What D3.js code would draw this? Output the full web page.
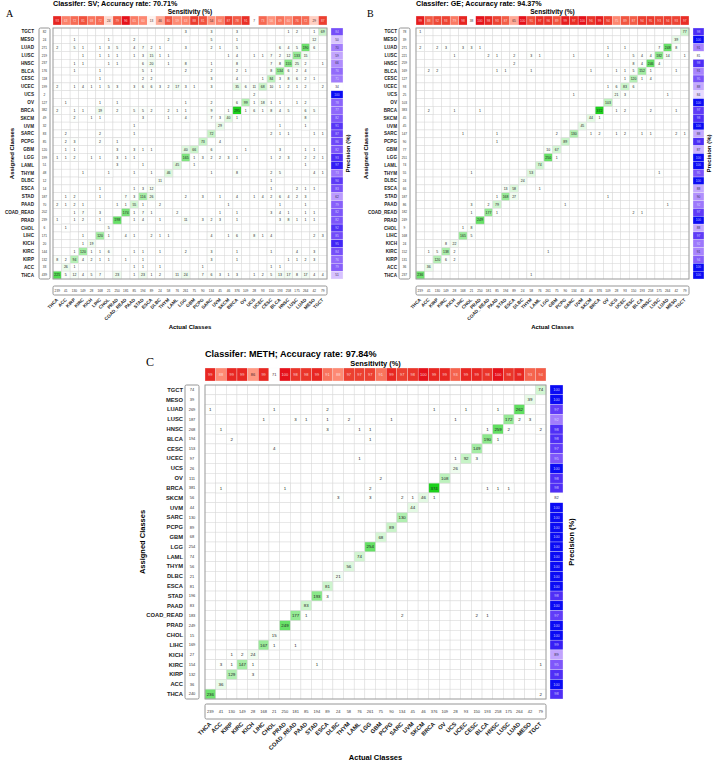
<!DOCTYPE html>
<html>
<head>
<meta charset="utf-8">
<title>Confusion matrices</title>
<script src="https://d3js.org/d3.v7.min.js"></script>
<style>
  body { margin: 0; background: #fff; }
  svg text { font-family: "Liberation Sans", Arial, sans-serif; }
</style>
</head>
<body>
<div id="view"></div>
<script>
// class order along the bottom (actual) and down the side (assigned)
var actualClasses = ["THCA","ACC","KIRP","KIRC","KICH","LIHC","CHOL","PRAD","COAD_READ","PAAD","STAD","ESCA","DLBC","THYM","LAML","LGG","GBM","PCPG","SARC","UVM","SKCM","BRCA","OV","UCS","UCEC","CESC","BLCA","HNSC","LUSC","LUAD","MESO","TGCT"];
var assignedClasses = ["TGCT","MESO","LUAD","LUSC","HNSC","BLCA","CESC","UCEC","UCS","OV","BRCA","SKCM","UVM","SARC","PCPG","GBM","LGG","LAML","THYM","DLBC","ESCA","STAD","PAAD","COAD_READ","PRAD","CHOL","LIHC","KICH","KIRC","KIRP","ACC","THCA"];
var actualTotals = [239,41,130,149,28,168,21,250,181,85,194,89,24,58,76,261,75,90,134,45,46,376,109,28,93,150,193,258,175,264,42,79];

// ---- SV ----
var svCells = {
  TGCT: {LGG:3, SARC:3, BRCA:3, HNSC:1, LUSC:2, MESO:1, TGCT:69},
  MESO: {KIRP:1, CHOL:1, PAAD:2, THYM:2, SARC:5, BRCA:1, MESO:12},
  LUAD: {THCA:2, KIRP:5, KIRC:1, LIHC:1, CHOL:3, PRAD:5, PAAD:4, STAD:7, ESCA:2, DLBC:1, LGG:3, SARC:2, UVM:1, BRCA:5, BLCA:6, HNSC:4, LUSC:5, LUAD:190, MESO:6},
  LUSC: {KIRC:1, LIHC:1, CHOL:1, PRAD:1, PAAD:1, STAD:3, ESCA:15, DLBC:1, THYM:1, SKCM:1, BRCA:4, UCS:1, UCEC:1, CESC:7, BLCA:2, HNSC:12, LUSC:133, LUAD:15},
  HNSC: {KIRP:1, KIRC:1, CHOL:1, PRAD:1, STAD:6, ESCA:20, THYM:1, LGG:8, SARC:1, BRCA:8, CESC:7, BLCA:8, HNSC:155, LUSC:25, LUAD:2, TGCT:1},
  BLCA: {KIRP:1, LIHC:1, STAD:5, ESCA:1, LGG:2, SARC:2, BRCA:2, OV:1, CESC:8, BLCA:134, HNSC:6, LUSC:2, LUAD:4},
  CESC: {LIHC:1, STAD:2, ESCA:2, SARC:3, BRCA:4, UCEC:1, CESC:84, BLCA:3, HNSC:8, LUSC:6, LUAD:2, MESO:1},
  UCEC: {THCA:2, KIRP:1, KIRC:4, KICH:1, LIHC:1, CHOL:5, PRAD:3, PAAD:3, STAD:6, ESCA:6, DLBC:3, THYM:2, LAML:17, LGG:3, GBM:1, SARC:3, BRCA:35, OV:6, UCS:11, UCEC:68, CESC:10, BLCA:1, HNSC:2, LUSC:1, LUAD:2, TGCT:2},
  UCS: {UCS:2},
  OV: {ACC:1, LIHC:1, PRAD:1, LGG:1, SARC:2, BRCA:6, OV:99, UCS:1, UCEC:18, CESC:1, BLCA:1, LUSC:1, LUAD:2},
  BRCA: {THCA:2, KIRP:1, KIRC:1, LIHC:19, PRAD:2, PAAD:5, STAD:5, ESCA:2, THYM:2, LAML:1, LGG:1, SARC:9, SKCM:1, BRCA:295, OV:1, UCS:6, UCEC:1, CESC:8, BLCA:4, HNSC:5, LUAD:6, MESO:5},
  SKCM: {KIRP:2, KICH:1, LIHC:1, STAD:3, THYM:1, LGG:4, SARC:7, UVM:3, SKCM:40, BRCA:1, LUAD:8},
  UVM: {PAAD:1, UVM:29, BLCA:1, LUAD:1},
  SARC: {ACC:2, LIHC:2, PAAD:1, SARC:72, CESC:2, BLCA:1, HNSC:1, MESO:1, TGCT:1},
  PCPG: {ACC:2, KIRP:3, LIHC:2, PRAD:1, PCPG:73, UVM:4},
  GBM: {ACC:1, KIRP:1, PRAD:3, PAAD:3, STAD:1, ESCA:1, LGG:40, GBM:66, SARC:6, OV:1, BLCA:3, LUAD:1, MESO:1},
  LGG: {THCA:1, ACC:1, KIRP:2, KICH:1, LIHC:1, PRAD:3, COAD_READ:1, PAAD:1, LGG:165, GBM:1, PCPG:3, SARC:2, UVM:2, SKCM:3, BRCA:1, CESC:1, BLCA:2, HNSC:3, LUAD:2, MESO:2, TGCT:1},
  LAML: {PRAD:3, STAD:1, LAML:45, GBM:1, LUAD:1},
  THYM: {KIRC:1, CHOL:1, PAAD:1, ESCA:1, THYM:46, SARC:1, BRCA:8, CESC:2, BLCA:5, MESO:4, TGCT:1},
  DLBC: {DLBC:11, CESC:1},
  ESCA: {LIHC:1, PAAD:1, STAD:3, ESCA:12, CESC:1, LUSC:2, LUAD:1, MESO:1},
  STAD: {ACC:1, KIRP:2, LIHC:1, COAD_READ:7, PAAD:3, STAD:116, ESCA:26, LGG:2, PCPG:3, UVM:1, BRCA:4, UCS:1, UCEC:4, CESC:2, BLCA:6, HNSC:4, LUSC:2, LUAD:3},
  PAAD: {THCA:2, ACC:1, KIRP:2, KIRC:1, PRAD:1, COAD_READ:1, PAAD:55, STAD:1, DLBC:2, SKCM:1, BLCA:1, LUAD:1},
  COAD_READ: {KIRP:1, KIRC:7, LIHC:3, COAD_READ:174, PAAD:1, STAD:7, ESCA:1, LAML:2, UVM:1, BRCA:1, CESC:3, BLCA:4, HNSC:1, LUAD:1, MESO:1},
  PRAD: {THCA:1, KIRP:1, KIRC:2, LIHC:1, PRAD:198, PAAD:1, STAD:4, DLBC:1, LGG:11, PCPG:3, SARC:2, UVM:3, BRCA:1, BLCA:3, HNSC:8, LUSC:1, LUAD:1, MESO:1},
  CHOL: {ACC:1, CHOL:5},
  LIHC: {KIRC:1, LIHC:120, CHOL:1, COAD_READ:4, PAAD:1, ESCA:2, DLBC:1, THYM:1, SARC:4, SKCM:1, BRCA:6, UCS:8, UCEC:1, CESC:4, MESO:2, TGCT:3},
  KICH: {KIRC:1, KICH:19},
  KIRC: {KIRP:1, KIRC:120, KICH:1, LIHC:1, CHOL:6, PAAD:1, STAD:1, DLBC:1, LGG:2, SARC:3, BRCA:1, CESC:1, LUSC:4, MESO:3},
  KIRP: {THCA:8, ACC:2, KIRP:94, KIRC:4, KICH:2, LIHC:1, CHOL:1, COAD_READ:1, STAD:1, SARC:3, BRCA:1, HNSC:1, LUSC:1, LUAD:2, MESO:3},
  ACC: {ACC:26, KIRP:1, PAAD:1, STAD:1, DLBC:1, PCPG:1, CESC:1, BLCA:1},
  THCA: {THCA:225, ACC:5, KIRP:12, KIRC:4, KICH:5, LIHC:7, PRAD:23, PAAD:1, STAD:23, ESCA:1, DLBC:2, LAML:11, LGG:24, PCPG:7, SARC:6, UVM:3, SKCM:1, BRCA:3, UCS:1, UCEC:2, CESC:5, BLCA:13, HNSC:17, LUSC:8, LUAD:17, MESO:4, TGCT:4}
};
var svRowTotals = [82,24,271,219,237,176,118,199,2,127,382,49,32,83,85,120,199,51,48,12,14,187,70,202,239,6,171,20,144,132,33,439];
var svSensitivity = [93,63,72,81,68,72,24,79,96,65,60,13,46,80,59,63,88,81,54,64,87,78,91,7,73,56,69,60,76,72,29,87];
var svPrecision = [84,50,70,59,66,76,71,34,100,78,77,82,91,87,86,82,93,97,73,90,83,62,79,82,82,92,85,95,84,76,79,51];

// ---- GE ----
var geCells = {
  TGCT: {THCA:1, TGCT:77},
  MESO: {MESO:39},
  LUAD: {THCA:2, KIRP:2, KIRC:3, LIHC:3, CHOL:3, PRAD:1, OV:1, UCEC:1, LUSC:7, LUAD:248, MESO:8},
  LUSC: {KICH:1, COAD_READ:2, PAAD:1, ESCA:2, THYM:3, LAML:1, SARC:1, OV:1, CESC:5, BLCA:4, HNSC:4, LUSC:182, LUAD:14, TGCT:1},
  HNSC: {ESCA:2, CESC:8, BLCA:4, HNSC:246, LUSC:4},
  BLCA: {ACC:2, KIRP:2, PAAD:1, STAD:1, THYM:1, SKCM:1, UCS:1, UCEC:1, CESC:5, BLCA:152, HNSC:1, MESO:1},
  CESC: {UCEC:1, CESC:120, BLCA:1, HNSC:4},
  UCEC: {OV:1, UCS:6, UCEC:83, CESC:6},
  UCS: {SARC:1, UCS:21, UCEC:3, LUAD:1},
  OV: {OV:103},
  BRCA: {ACC:2, KICH:1, PRAD:1, BRCA:372, UCS:1, UCEC:2, HNSC:2, MESO:1},
  SKCM: {SKCM:44, BRCA:1},
  UVM: {UVM:45},
  SARC: {LIHC:1, PAAD:1, GBM:2, SARC:130, SKCM:1, BRCA:2, UCS:1, UCEC:2, BLCA:1, HNSC:1, MESO:2, TGCT:1},
  PCPG: {PAAD:1, PCPG:89},
  GBM: {LGG:10, GBM:67},
  LGG: {LGG:250, GBM:1},
  LAML: {LAML:74},
  THYM: {CHOL:1, THYM:53, LUSC:1},
  DLBC: {DLBC:24},
  ESCA: {STAD:13, ESCA:58, LAML:1},
  STAD: {PAAD:1, STAD:168, ESCA:27, OV:1},
  PAAD: {CHOL:3, COAD_READ:2, PAAD:79, PCPG:1, LUAD:1},
  COAD_READ: {CHOL:1, COAD_READ:177, PAAD:1, CESC:2, BLCA:1},
  PRAD: {PRAD:249},
  CHOL: {LIHC:1, CHOL:8},
  LIHC: {LIHC:165, CHOL:5},
  KICH: {KIRC:8, KICH:22},
  KIRC: {ACC:1, KIRP:5, KIRC:138, KICH:2, LGG:1},
  KIRP: {KIRP:120, KIRC:6, KICH:2},
  ACC: {ACC:36},
  THCA: {THCA:236, THYM:1}
};
var geRowTotals = [78,39,271,221,259,169,127,93,25,103,383,45,45,147,90,77,251,74,55,24,66,187,86,182,249,9,168,24,152,131,36,237];
var geSensitivity = [99,88,92,93,79,98,38,100,98,93,87,65,100,91,97,96,89,99,97,100,96,99,94,75,89,87,94,95,93,94,93,97];
var gePrecision = [98,100,91,81,98,91,95,88,84,100,97,98,100,88,98,87,100,100,95,100,88,90,92,97,100,88,97,92,91,94,100,100];

// ---- METH ----
var methCells = {
  TGCT: {TGCT:74},
  MESO: {MESO:39},
  LUAD: {THCA:1, CHOL:1, ESCA:2, BRCA:1, UCEC:1, HNSC:1, LUAD:262},
  LUSC: {LIHC:1, COAD_READ:3, PAAD:1, ESCA:1, THYM:2, PCPG:1, UCS:1, LUSC:172, LUAD:2, MESO:3},
  HNSC: {ACC:1, ESCA:3, LAML:1, LGG:1, BLCA:1, HNSC:259, LUSC:2, TGCT:2},
  BLCA: {KIRP:2, LGG:1, BLCA:190, HNSC:1},
  CESC: {CHOL:4, CESC:149},
  UCEC: {LAML:1, UCS:1, UCEC:92, CESC:3},
  UCS: {UCS:26},
  OV: {GBM:2, OV:108},
  BRCA: {ACC:1, PRAD:1, LGG:2, BRCA:374, BLCA:1, HNSC:1, LUSC:1},
  SKCM: {DLBC:3, LGG:3, SARC:2, UVM:1, SKCM:46, BRCA:1},
  UVM: {UVM:44},
  SARC: {SARC:130},
  PCPG: {PCPG:89},
  GBM: {GBM:68},
  LGG: {LGG:254},
  LAML: {LAML:74},
  THYM: {THYM:56},
  DLBC: {DLBC:21},
  ESCA: {ESCA:81},
  STAD: {STAD:193, ESCA:3},
  PAAD: {PAAD:83},
  COAD_READ: {COAD_READ:177, PAAD:1, SARC:2, CESC:2, BLCA:1},
  PRAD: {PRAD:249},
  CHOL: {CHOL:15},
  LIHC: {LIHC:167, CHOL:1, COAD_READ:1},
  KICH: {KIRP:1, KIRC:2, KICH:24},
  KIRC: {ACC:3, KIRP:1, KIRC:147, KICH:1, STAD:1, TGCT:1},
  KIRP: {KIRP:129, KICH:3},
  ACC: {ACC:36},
  THCA: {THCA:236, TGCT:2}
};
var methRowTotals = [74,39,269,187,268,194,153,97,26,111,381,56,44,130,89,68,254,74,56,21,81,196,83,183,249,15,169,27,154,132,36,240];
var methSensitivity = [99,88,99,99,86,99,71,100,98,98,99,91,88,97,97,97,91,99,97,98,100,99,99,93,99,99,98,100,98,99,93,94];
var methPrecision = [100,100,97,92,98,98,97,95,100,98,98,82,100,100,100,100,100,100,100,100,100,98,100,97,100,100,99,89,95,98,100,98];

var width = 713, height = 761;
var svg = d3.select("#view").append("svg")
  .attr("width", width).attr("height", height)
  .attr("viewBox", "0 0 " + width + " " + height);

var panels = [
  {letter: "A", title: "Classifer: SV; Accuracy rate: 70.71%", cells: svCells, rowTotals: svRowTotals, sens: svSensitivity, prec: svPrecision,
   x0: 53, x1: 327, y0: 28, y1: 279, letterX: 6, letterY: 16.5, titleY: 6, sensLabelY: 14, stripY0: 16, stripY1: 25,
   rowLabelX: 34, totX0: 39, totX1: 50, precX0: 331, precX1: 343, precLabelX: 350, assignedLabelX: 13.5,
   colTotY0: 286, colTotY1: 295, colLabelY: 299, actualLabelY: 329,
   fLetter: 10, fTitle: 7.2, fSens: 6.5, fAxis: 6, fLabel: 4.6, fCell: 3.5, fSmall: 3.2},
  {letter: "B", title: "Classifer: GE; Accuracy rate: 94.37%", cells: geCells, rowTotals: geRowTotals, sens: geSensitivity, prec: gePrecision,
   x0: 416, x1: 689, y0: 28, y1: 279, letterX: 367, letterY: 16.5, titleY: 6, sensLabelY: 14, stripY0: 16, stripY1: 25,
   rowLabelX: 397, totX0: 399, totX1: 410, precX0: 693, precX1: 704, precLabelX: 711, assignedLabelX: 368,
   colTotY0: 286, colTotY1: 295, colLabelY: 299, actualLabelY: 329,
   fLetter: 10, fTitle: 7.2, fSens: 6.5, fAxis: 6, fLabel: 4.6, fCell: 3.5, fSmall: 3.2},
  {letter: "C", title: "Classifer: METH; Accuracy rate: 97.84%", cells: methCells, rowTotals: methRowTotals, sens: methSensitivity, prec: methPrecision,
   x0: 205, x1: 546, y0: 385, y1: 699, letterX: 146, letterY: 366, titleY: 357, sensLabelY: 365.5, stripY0: 368, stripY1: 381,
   rowLabelX: 183, totX0: 185, totX1: 199, precX0: 550, precX1: 563, precLabelX: 574, assignedLabelX: 145,
   colTotY0: 704, colTotY1: 719, colLabelY: 723, actualLabelY: 760,
   fLetter: 12, fTitle: 9.1, fSens: 7.4, fAxis: 7.5, fLabel: 5.8, fCell: 4.4, fSmall: 4}
];

panels.forEach(function (p) { drawPanel(p); });

function drawPanel(p) {
  var g = svg.append("g");
  var x = d3.scaleBand().domain(actualClasses).range([p.x0, p.x1]);
  var y = d3.scaleBand().domain(assignedClasses).range([p.y0, p.y1]);

  var cells = [];
  assignedClasses.forEach(function (r) {
    var row = p.cells[r] || {};
    Object.keys(row).forEach(function (c) { cells.push({row: r, col: c, n: row[c]}); });
  });
  var maxN = d3.max(cells, function (d) { return d.n; });
  var green = d3.scaleLinear().domain([0, maxN]).range(["#ffffff", "#1cd21c"]);
  var sensT = d3.scaleLinear().domain(d3.extent(p.sens)).range([0, 1]);
  var precT = d3.scaleLinear().domain(d3.extent(p.prec)).range([0, 1]);
  var red = d3.interpolateLab("#ffffff", "#e5121b");
  var blue = d3.interpolateLab("#ffffff", "#0b0bf4");

  // letter and titles
  g.append("text").attr("x", p.letterX).attr("y", p.letterY)
    .style("font-family", "'Liberation Serif', 'Times New Roman', serif")
    .attr("font-size", p.fLetter).text(p.letter);
  g.append("text").attr("x", p.x0).attr("y", p.titleY)
    .attr("font-size", p.fTitle).attr("font-weight", "bold").text(p.title);
  g.append("text").attr("x", (p.x0 + p.x1) / 2).attr("y", p.sensLabelY)
    .attr("text-anchor", "middle").attr("font-size", p.fSens).attr("font-weight", "bold")
    .text("Sensitivity (%)");

  // sensitivity strip
  g.selectAll(".sens").data(p.sens).join("rect")
    .attr("x", function (d, i) { return x(actualClasses[i]); })
    .attr("y", p.stripY0).attr("width", x.bandwidth()).attr("height", p.stripY1 - p.stripY0)
    .attr("fill", function (d) { return red(sensT(d)); })
    .attr("stroke", "#f4f4f4").attr("stroke-width", 0.3);
  g.selectAll(".sensTxt").data(p.sens).join("text")
    .attr("x", function (d, i) { return x(actualClasses[i]) + x.bandwidth() / 2; })
    .attr("y", (p.stripY0 + p.stripY1) / 2).attr("dy", "0.35em")
    .attr("text-anchor", "middle").attr("font-size", p.fSmall)
    .attr("fill", function (d) { return sensT(d) > 0.55 ? "rgba(255,235,235,0.85)" : "#4a2a2a"; })
    .text(function (d) { return d; });

  // grid of cells
  var grid = [];
  assignedClasses.forEach(function (r) { actualClasses.forEach(function (c) { grid.push([r, c]); }); });
  g.append("g").selectAll("rect").data(grid).join("rect")
    .attr("x", function (d) { return x(d[1]); }).attr("y", function (d) { return y(d[0]); })
    .attr("width", x.bandwidth()).attr("height", y.bandwidth())
    .attr("fill", "#fff").attr("stroke", "#d9d9d9").attr("stroke-width", 0.5);
  g.append("g").selectAll("rect").data(cells).join("rect")
    .attr("x", function (d) { return x(d.col); }).attr("y", function (d) { return y(d.row); })
    .attr("width", x.bandwidth()).attr("height", y.bandwidth())
    .attr("fill", function (d) { return green(d.n); })
    .attr("stroke", "#d9d9d9").attr("stroke-width", 0.5);
  g.append("g").selectAll("text").data(cells).join("text")
    .attr("x", function (d) { return x(d.col) + x.bandwidth() / 2; })
    .attr("y", function (d) { return y(d.row) + y.bandwidth() / 2; })
    .attr("dy", "0.35em").attr("text-anchor", "middle")
    .attr("font-size", p.fCell).attr("fill", "#222")
    .text(function (d) { return d.n; });
  g.append("rect").attr("x", p.x0).attr("y", p.y0)
    .attr("width", p.x1 - p.x0).attr("height", p.y1 - p.y0)
    .attr("fill", "none").attr("stroke", "#9a9a9a").attr("stroke-width", 0.9);

  // assigned class labels
  var yAxis = g.append("g").attr("transform", "translate(" + p.rowLabelX + ",0)")
    .call(d3.axisLeft(y).tickSize(0).tickPadding(0));
  yAxis.select(".domain").remove();
  yAxis.selectAll("text").attr("font-size", p.fLabel).attr("font-weight", "bold")
    .style("font-family", "'Liberation Sans', Arial, sans-serif").attr("fill", "#222");

  // row totals box
  g.append("rect").attr("x", p.totX0).attr("y", p.y0)
    .attr("width", p.totX1 - p.totX0).attr("height", p.y1 - p.y0)
    .attr("rx", 1.5).attr("fill", "#fff").attr("stroke", "#8a8a8a").attr("stroke-width", 0.9);
  g.selectAll(".rowTot").data(p.rowTotals).join("text")
    .attr("x", (p.totX0 + p.totX1) / 2)
    .attr("y", function (d, i) { return y(assignedClasses[i]) + y.bandwidth() / 2; })
    .attr("dy", "0.35em").attr("text-anchor", "middle")
    .attr("font-size", p.fSmall).attr("fill", "#333").text(function (d) { return d; });

  // precision strip
  g.selectAll(".prec").data(p.prec).join("rect")
    .attr("x", p.precX0).attr("width", p.precX1 - p.precX0)
    .attr("y", function (d, i) { return y(assignedClasses[i]); }).attr("height", y.bandwidth())
    .attr("fill", function (d) { return blue(precT(d)); })
    .attr("stroke", "#f4f4f4").attr("stroke-width", 0.3);
  g.selectAll(".precTxt").data(p.prec).join("text")
    .attr("x", (p.precX0 + p.precX1) / 2)
    .attr("y", function (d, i) { return y(assignedClasses[i]) + y.bandwidth() / 2; })
    .attr("dy", "0.35em").attr("text-anchor", "middle").attr("font-size", p.fSmall)
    .attr("fill", function (d) { return precT(d) > 0.55 ? "rgba(225,225,255,0.8)" : "#33335a"; })
    .text(function (d) { return d; });

  // column totals box
  g.append("rect").attr("x", p.x0).attr("y", p.colTotY0)
    .attr("width", p.x1 - p.x0).attr("height", p.colTotY1 - p.colTotY0)
    .attr("rx", 1.5).attr("fill", "#fff").attr("stroke", "#8a8a8a").attr("stroke-width", 0.9);
  g.selectAll(".colTot").data(actualTotals).join("text")
    .attr("x", function (d, i) { return x(actualClasses[i]) + x.bandwidth() / 2; })
    .attr("y", (p.colTotY0 + p.colTotY1) / 2).attr("dy", "0.35em")
    .attr("text-anchor", "middle").attr("font-size", p.fSmall).attr("fill", "#333")
    .text(function (d) { return d; });

  // actual class labels, rotated
  var xAxis = g.append("g").attr("transform", "translate(0," + p.colLabelY + ")")
    .call(d3.axisBottom(x).tickSize(0).tickPadding(0));
  xAxis.select(".domain").remove();
  xAxis.selectAll("text")
    .attr("x", 0).attr("y", 0).attr("dy", "0.35em")
    .attr("transform", "rotate(-45)").attr("text-anchor", "end")
    .attr("font-size", p.fLabel).attr("font-weight", "bold")
    .style("font-family", "'Liberation Sans', Arial, sans-serif").attr("fill", "#222");

  // axis titles
  g.append("text").attr("x", (p.x0 + p.x1) / 2).attr("y", p.actualLabelY)
    .attr("text-anchor", "middle").attr("font-size", p.fAxis).attr("font-weight", "bold")
    .text("Actual Classes");
  g.append("text")
    .attr("transform", "translate(" + p.assignedLabelX + "," + (p.y0 + p.y1) / 2 + ") rotate(-90)")
    .attr("text-anchor", "middle").attr("font-size", p.fAxis).attr("font-weight", "bold")
    .text("Assigned Classes");
  g.append("text")
    .attr("transform", "translate(" + p.precLabelX + "," + (p.y0 + p.y1) / 2 + ") rotate(-90)")
    .attr("text-anchor", "middle").attr("font-size", p.fAxis).attr("font-weight", "bold")
    .text("Precision (%)");
}
</script>
</body>
</html>
